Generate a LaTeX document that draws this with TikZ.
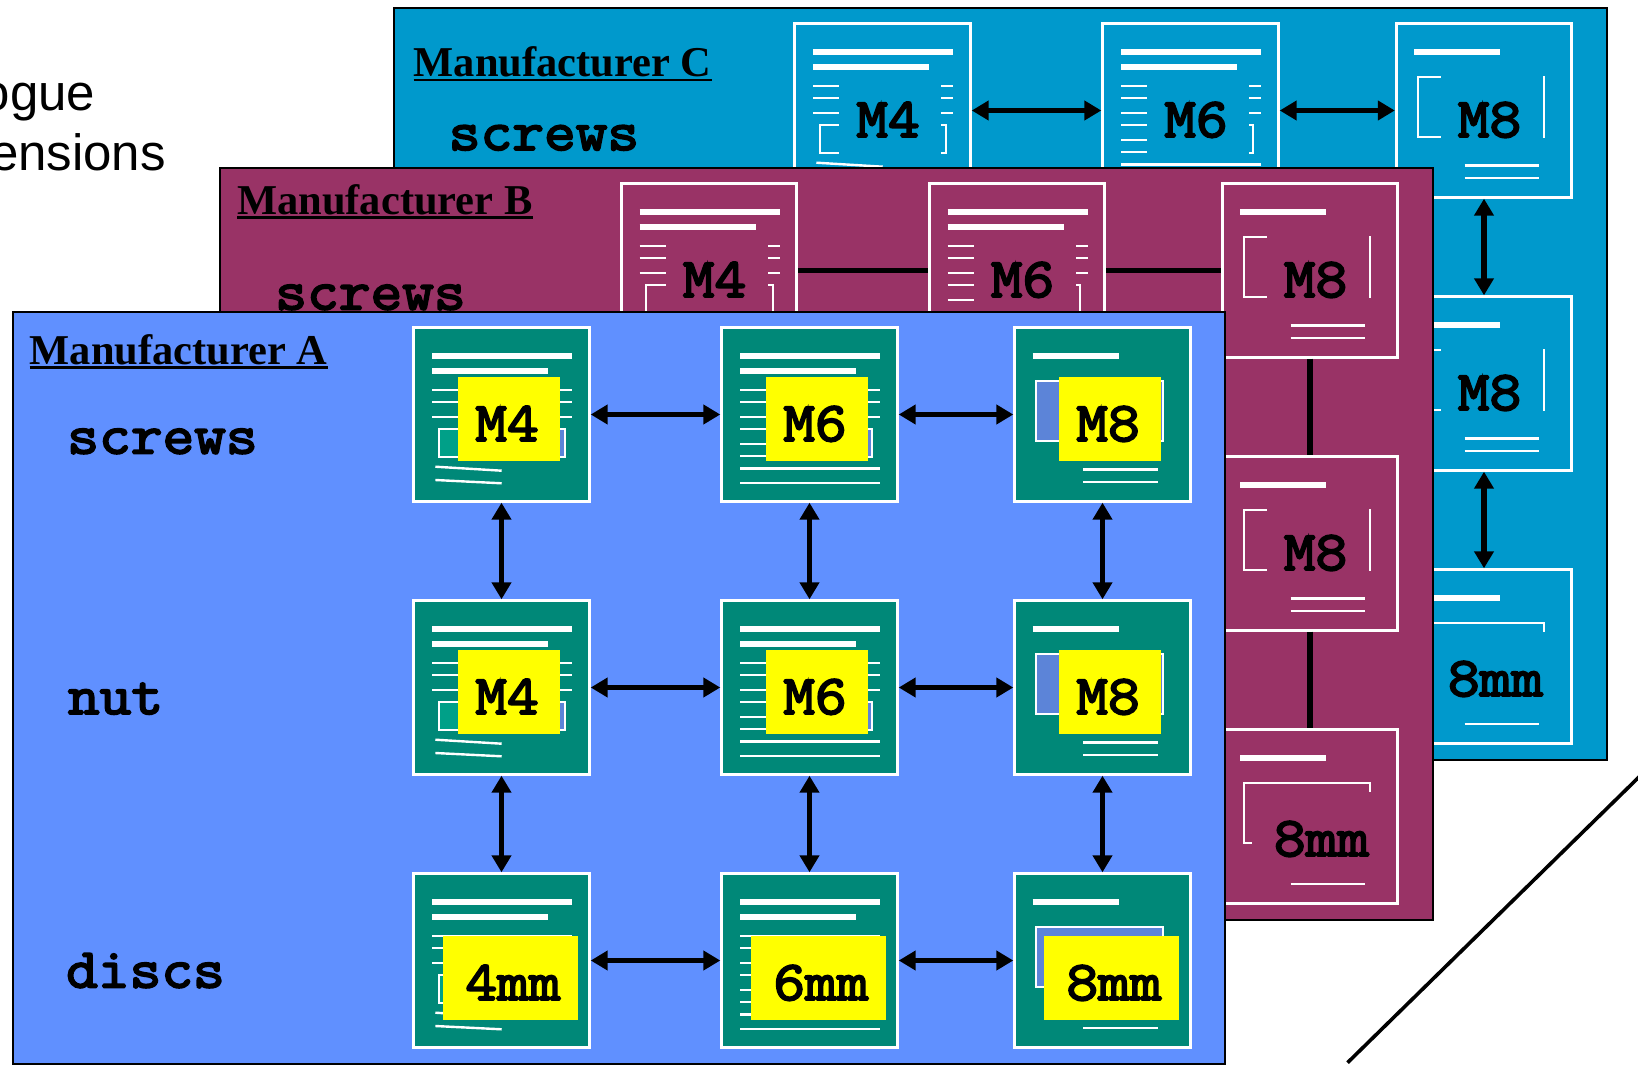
\documentclass[tikz,border=0pt]{standalone}
\usepackage{fontspec}
\usetikzlibrary{arrows.meta}
\newfontfamily\timesf{Liberation Serif}
\newfontfamily\arialf{Liberation Sans}
\newfontfamily\courf[FakeBold=3.4,FakeStretch=1.1]{Latin Modern Mono}
\definecolor{panelA}{HTML}{6090FF}
\definecolor{panelB}{HTML}{993366}
\definecolor{panelC}{HTML}{0099CC}
\definecolor{tealcard}{HTML}{008878}
\definecolor{lightteal}{HTML}{00A088}
\definecolor{blueinset}{HTML}{5C84D8}
\definecolor{patchyellow}{HTML}{FFFF00}
\newcommand\ulhead[1]{\setbox0\hbox{#1}\rlap{\rule[-4.5pt]{\wd0}{2.6pt}}\box0}
\tikzset{
  panelbox/.style={draw=black,line width=2pt},
  cardbox/.style={draw=white,line width=3pt,minimum width=175.4pt,minimum height=173.4pt,inner sep=0pt},
  barline/.style={draw=white,line width=6pt},
  thinline/.style={draw=white,line width=2.4pt},
  insetline/.style={draw=white,line width=2pt},
  dblarrow/.style={line width=5.4pt,{Triangle[length=17pt,width=19pt]}-{Triangle[length=17pt,width=19pt]}},
  plainlink/.style={line width=5.6pt},
  courtext/.style={inner sep=0pt,anchor=base,font=\fontsize{56}{60}\selectfont\courf,text=black},
  headtext/.style={inner sep=0pt,anchor=base west,font=\fontsize{42.5}{46}\selectfont\timesf\bfseries,text=black},
  sidetext/.style={inner sep=0pt,anchor=base east,font=\fontsize{51}{60}\selectfont\arialf,text=black},
}
% #1 name, #2 x, #3 y, #4 kind (4,6,8), #5 label, #6 1 = wide patch (third row)
\newcommand\mkcard[6]{%
  \begin{scope}[shift={(#2,#3)}]
    \node[cardbox,fill=\cardfill] (#1) at (88.5,87.5) {};
    \ifnum#4=8
      \draw[barline] (18.5,29) -- (104.7,29);
      \path[fill=\boxR] (22,54) rectangle (148.7,114);
      \draw[insetline] (22,54) rectangle (148.7,114);
      \draw[thinline] (69,142.5) -- (143.7,142.5);
      \draw[thinline] (69,155) -- (143.7,155);
    \else
      \draw[barline] (19,29) -- (159,29);
      \draw[barline] (19,44) -- (135,44);
      \draw[thinline] (19,63) -- (159,63);
      \draw[thinline] (19,75) -- (159,75);
      \draw[thinline] (19,90) -- (159,90);
      \ifnum#4=4
        \path[fill=\boxL] (25.7,102) rectangle (90,130);
        \path[fill=\boxR] (90,102) rectangle (152,130);
        \draw[insetline] (25.7,102) rectangle (152,130);
        \draw[thinline] (22.3,139.7) -- (88.7,143.7);
        \draw[thinline] (22.3,153) -- (88.7,156.3);
      \else
        \path[fill=\boxR] (70,102) rectangle (151,130);
        \draw[insetline] (70,102) rectangle (151,130);
        \draw[thinline] (19,102) -- (70,102);
        \draw[thinline] (19,117) -- (70,117);
        \draw[thinline] (19,129) -- (70,129);
        \draw[thinline] (19,141.5) -- (159,141.5);
        \draw[thinline] (19,156) -- (159,156);
      \fi
    \fi
    \ifnum#6=1
      \path[fill=\patchfill] (30,63) rectangle (164.7,146.7);
      \node[courtext] (#1t) at (100,127) {#5};
    \else
      \path[fill=\patchfill] (45,50) rectangle (147,134);
      \node[courtext] (#1t) at (94,114) {#5};
    \fi
  \end{scope}%
}
\begin{document}
\begin{tikzpicture}[x=1pt,y=-1pt]
\useasboundingbox (0,0) rectangle (1638,1067);
\clip (0,0) rectangle (1638,1067);
\fill[white] (0,0) rectangle (1638,1067);
% cut-off heading
\node[sidetext] (topone) at (95.5,110.5) {ogue};
\node[sidetext] (toptwo) at (166,170.5) {ensions};
% diagonal
\coordinate (diagA) at (1347.5,1062.7);
\coordinate (diagB) at (1640,776);
\draw[line width=3.6pt] (diagA) -- (diagB);
% ------- panel C
\def\cardfill{panelC}\def\patchfill{panelC}\def\boxL{panelC}\def\boxR{panelC}
\draw[panelbox,fill=panelC] (394,8) rectangle (1606.5,760);
\node[headtext] (hc) at (413.5,77) {\ulhead{Manufacturer C}};
\node[courtext] (sc) at (544,150) {screws};
\mkcard{c11}{794}{23}{4}{M4}{0}
\mkcard{c12}{1102}{23}{6}{M6}{0}
\mkcard{c13}{1395.5}{23}{8}{M8}{0}
\mkcard{c23}{1395.5}{296}{8}{M8}{0}
\mkcard{c33}{1395.5}{569}{8}{8mm}{1}
\draw[dblarrow] (c11.east) -- (c12.west);
\draw[dblarrow] (c12.east) -- (c13.west);
\draw[dblarrow] (c13.south) -- (c23.north);
\draw[dblarrow] (c23.south) -- (c33.north);
% ------- panel B
\def\cardfill{panelB}\def\patchfill{panelB}\def\boxL{panelB}\def\boxR{panelB}
\draw[panelbox,fill=panelB] (220,167.7) rectangle (1433,919.5);
\node[headtext] (hb) at (237,214.5) {\ulhead{Manufacturer B}};
\node[courtext] (sb) at (370.5,309.5) {screws};
\mkcard{b11}{620.5}{183}{4}{M4}{0}
\mkcard{b12}{928.5}{183}{6}{M6}{0}
\mkcard{b13}{1221.5}{183}{8}{M8}{0}
\mkcard{b23}{1221.5}{456}{8}{M8}{0}
\mkcard{b33}{1221.5}{729}{8}{8mm}{1}
\draw[plainlink] (b11.east) -- (b12.west);
\draw[plainlink] (b12.east) -- (b13.west);
\draw[plainlink] (b13.south) -- (b23.north);
\draw[plainlink] (b23.south) -- (b33.north);
% ------- panel A
\def\cardfill{tealcard}\def\patchfill{patchyellow}\def\boxL{lightteal}\def\boxR{blueinset}
\draw[panelbox,fill=panelA] (12.5,311.7) rectangle (1225,1064);
\node[headtext] (ha) at (29.5,364) {\ulhead{Manufacturer A}};
\node[courtext] (sa) at (162.5,453.5) {screws};
\node[courtext] (na) at (115.5,714) {nut};
\node[courtext] (da) at (145.5,987.5) {discs};
\mkcard{a11}{413}{327}{4}{M4}{0}
\mkcard{a12}{721}{327}{6}{M6}{0}
\mkcard{a13}{1014}{327}{8}{M8}{0}
\mkcard{a21}{413}{600}{4}{M4}{0}
\mkcard{a22}{721}{600}{6}{M6}{0}
\mkcard{a23}{1014}{600}{8}{M8}{0}
\mkcard{a31}{413}{873}{4}{4mm}{1}
\mkcard{a32}{721}{873}{6}{6mm}{1}
\mkcard{a33}{1014}{873}{8}{8mm}{1}
\foreach \r in {1,2,3}{
  \draw[dblarrow] (a\r1.east) -- (a\r2.west);
  \draw[dblarrow] (a\r2.east) -- (a\r3.west);
}
\foreach \c in {1,2,3}{
  \draw[dblarrow] (a1\c.south) -- (a2\c.north);
  \draw[dblarrow] (a2\c.south) -- (a3\c.north);
}
\end{tikzpicture}
\end{document}
